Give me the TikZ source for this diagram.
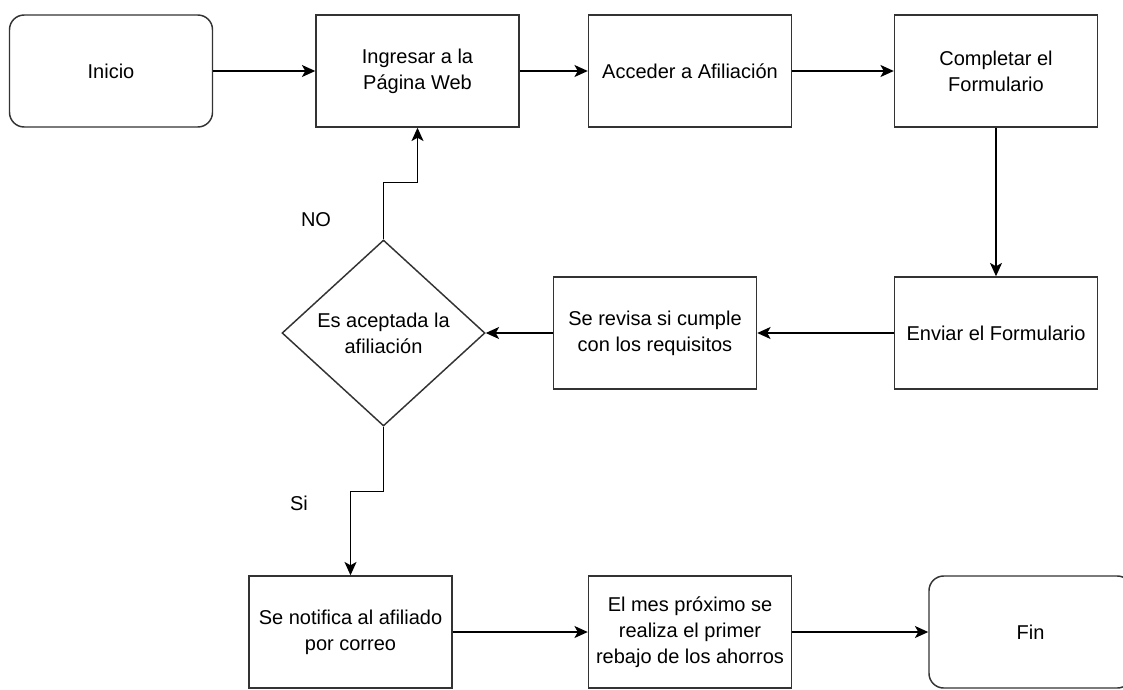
\documentclass[tikz,border=0pt]{standalone}
\usepackage{fontspec}
\setmainfont{Liberation Sans}
\usetikzlibrary{shapes.geometric,arrows.meta}

\begin{document}
\begin{tikzpicture}[x=0.75pt,y=-0.75pt,
		texto/.style={font=\fontsize{15}{19.5}\selectfont},
		caja/.style={texto,draw=black!80,line width=1.1pt,minimum width=152.25pt,minimum height=84pt,align=center,inner sep=2pt},
		redondo/.style={caja,rounded corners=11pt},
		rombo/.style={texto,diamond,draw=black!80,line width=1.1pt,minimum width=152.25pt,minimum height=139.5pt,aspect=1.09,inner sep=0pt,align=center},
		flecha/.style={-{Stealth[length=10pt,width=9pt,inset=2.5pt]},line width=1.1pt}]
			\useasboundingbox (0,0) rectangle (1123,689);
			\node[redondo] (inicio) at (111,71) {Inicio};
			\node[caja] (ingresar) at (417.5,71) {Ingresar a la\\Página Web};
			\node[caja] (acceder) at (690,71) {Acceder a Afiliación};
			\node[caja] (completar) at (996,71) {Completar el\\Formulario};
			\node[caja] (enviar) at (996,333) {Enviar el Formulario};
			\node[caja] (revisa) at (655,333) {Se revisa si cumple\\con los requisitos};
			\node[rombo] (aceptada) at (383.5,333) {Es aceptada la\\afiliación};
			\node[caja] (notifica) at (350.5,632) {Se notifica al afiliado\\por correo};
			\node[caja] (rebajo) at (690,632) {El mes próximo se\\realiza el primer\\rebajo de los ahorros};
			\node[redondo] (fin) at (1030.5,632) {Fin};
			\node[texto] (etqno) at (316,220) {NO};
			\node[texto] (etqsi) at (299,503) {Si};
			\draw[flecha] (inicio) -- (ingresar);
			\draw[flecha] (ingresar) -- (acceder);
			\draw[flecha] (acceder) -- (completar);
			\draw[flecha] (completar) -- (enviar);
			\draw[flecha] (enviar) -- (revisa);
			\draw[flecha] (revisa) -- (aceptada);
			\draw[flecha] (aceptada.north) -- ++(0,-57) -| (ingresar.south);
			\draw[flecha] (aceptada.south) -- ++(0,65) -| (notifica.north);
			\draw[flecha] (notifica) -- (rebajo);
			\draw[flecha] (rebajo) -- (fin);
		\end{tikzpicture}
\end{document}
